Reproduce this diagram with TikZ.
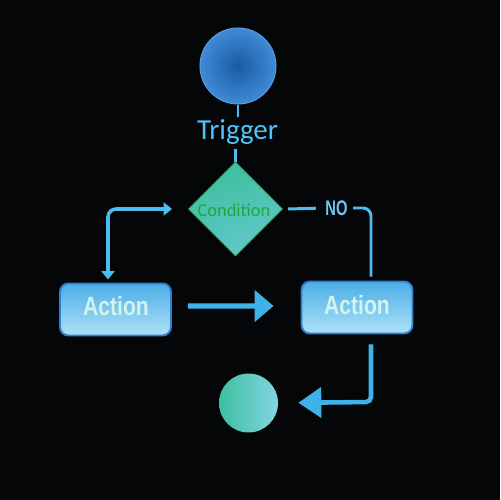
\documentclass[tikz,border=0pt]{standalone}
\usepackage{fontspec}
\setmainfont{Carlito}
\newfontfamily\actfont{Liberation Sans}
\usetikzlibrary{shapes.geometric,arrows.meta}
\definecolor{bgc}{HTML}{050607}
\definecolor{lineblue}{HTML}{4DBDF0}
\definecolor{arrblue}{HTML}{3FB2EA}
\definecolor{trigblue}{HTML}{4FC3F7}
\definecolor{condgreen}{HTML}{1FA845}
\definecolor{boxtop}{HTML}{4CAEE6}
\definecolor{boxbot}{HTML}{ADE2F6}
\definecolor{boxedge}{HTML}{2F7FD0}
\definecolor{acttext}{HTML}{D2F3EE}
\definecolor{teal1}{HTML}{3DBF9C}
\definecolor{teal2}{HTML}{62C8CC}
\definecolor{endl}{HTML}{3DBF9F}
\definecolor{endr}{HTML}{82D6E2}
\definecolor{startin}{HTML}{1B5AA3}
\definecolor{startout}{HTML}{3F8AD6}
\definecolor{startedge}{HTML}{5A9AE0}
\definecolor{condedge}{HTML}{35B070}
\definecolor{notext}{HTML}{6CC8F5}
\tikzset{
  startc/.style={circle, minimum size=1.52cm, inner sep=0, inner color=startin, outer color=startout, draw=startedge, line width=0.6pt},
  endcirc/.style={circle, minimum size=1.18cm, inner sep=0, left color=endl, right color=endr},
  condbox/.style={diamond, aspect=1, minimum width=1.88cm, minimum height=1.88cm, inner sep=0, top color=teal1, bottom color=teal2, shading angle=20, draw=condedge, line width=0.5pt},
  actbox/.style={rectangle, rounded corners=0.17cm, minimum width=2.22cm, minimum height=1.04cm, top color=boxtop, bottom color=boxbot, draw=boxedge, line width=1.1pt},
  acttxt/.style={text=acttext, font=\actfont\bfseries\fontsize{15}{16}\selectfont, xscale=0.8, inner sep=0},
  trigtxt/.style={text=trigblue, font=\fontsize{16.5}{18}\selectfont, inner sep=0},
  condtxt/.style={text=condgreen, font=\fontsize{10.5}{12}\selectfont, inner sep=0},
  notxt/.style={text=notext, font=\actfont\bfseries\fontsize{12}{12}\selectfont, xscale=0.7, inner sep=1pt},
  thin conn/.style={draw=lineblue, line width=1.7pt},
  loopconn/.style={draw=lineblue, line width=2pt, rounded corners=0.16cm, {Triangle[length=0.17cm,width=0.26cm]}-{Triangle[length=0.17cm,width=0.26cm]}},
  bigarrow/.style={draw=arrblue, line width=2.9pt, -{Triangle[length=0.38cm,width=0.62cm]}},
  endarrow/.style={draw=arrblue, line width=2.6pt, rounded corners=0.1cm, -{Triangle[length=0.46cm,width=0.6cm]}},
}
\begin{document}
\begin{tikzpicture}[x=0.02cm,y=-0.02cm]
\fill[bgc] (0,0) rectangle (500,500);
\useasboundingbox (0,0) rectangle (500,500);
% nodes
\node[startc] (trig) at (238,66) {};
\node[trigtxt] (trigtext) at (237.5,132) {Trigger};
\node[condbox] (cond) at (235.5,209) {};
\node[condtxt] (condtext) at (234,210) {Condition};
\node[actbox] (action1) at (115.5,309.5) {};
\node[acttxt] (a1text) at (116,306) {Action};
\node[actbox] (action2) at (357,307.5) {};
\node[acttxt] (a2text) at (357,305) {Action};
\node[endcirc] (endc) at (248.5,403) {};
\node[notxt] (no) at (336.5,208) {NO};
% coordinates
\coordinate (t1) at (238,117);
\coordinate (t2) at (235.5,149);
\coordinate (c1) at (371,208);
\coordinate (c2) at (108,209);
\coordinate (c3) at (371,402);
% connectors
\draw[thin conn] (trig.south) -- (t1);
\draw[thin conn] (t2) -- (cond.north);
\draw[thin conn, shorten >=0.16cm] ([xshift=0.1cm]cond.east) -- (no.west);
\draw[thin conn, rounded corners=0.16cm, shorten <=0.08cm, shorten >=0.08cm] (no.east) -- (c1) -- (action2.north -| c1);
\draw[loopconn, shorten >=0.32cm, shorten <=0.06cm] (action1.north -| c2) -- (c2) -- (cond.west);
\draw[bigarrow, shorten <=0.32cm, shorten >=0.54cm] ([yshift=0.07cm]action1.east) -- ([yshift=0.03cm]action2.west);
\draw[endarrow, shorten <=0.2cm, shorten >=0.4cm] (action2.south -| c3) -- (c3) -- (endc.east);
\end{tikzpicture}
\end{document}
